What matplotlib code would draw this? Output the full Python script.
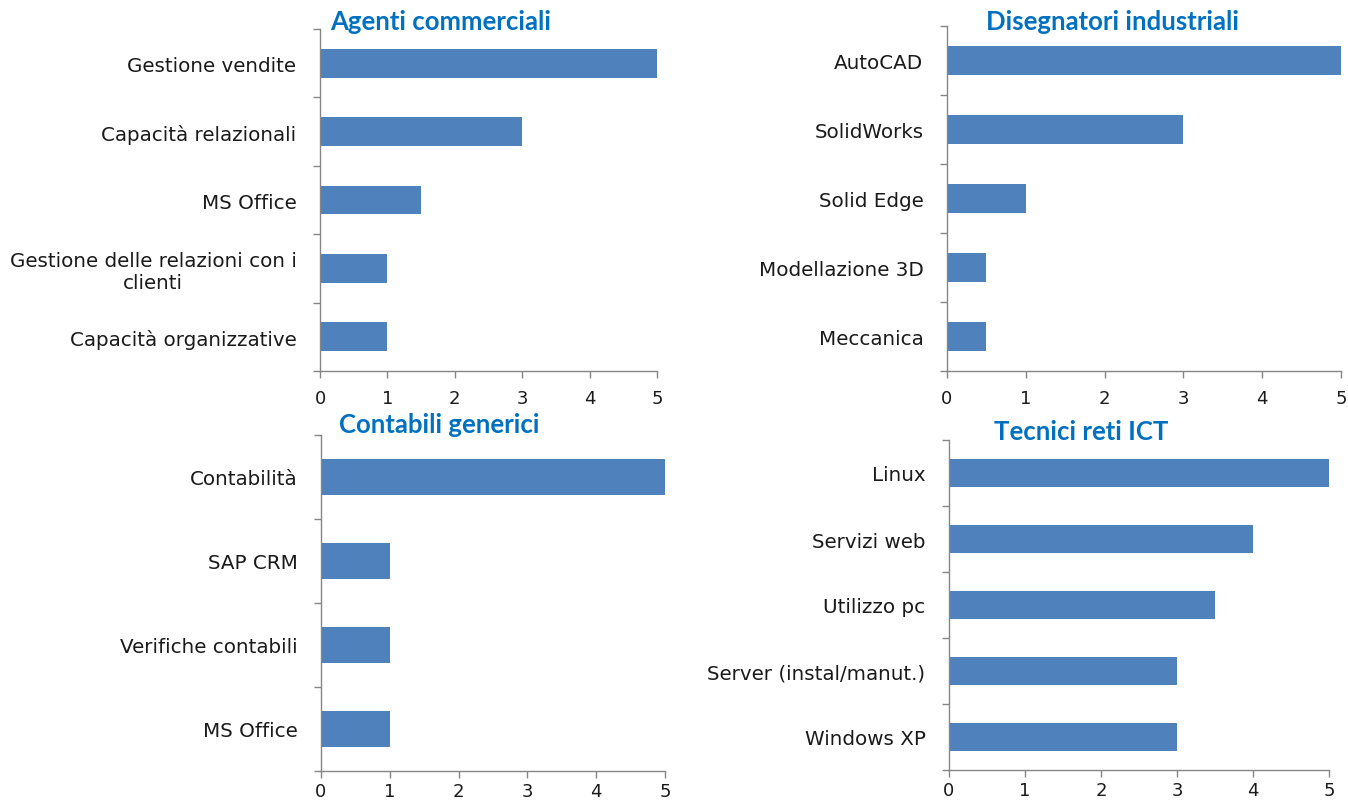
import matplotlib
matplotlib.use("Agg")
import matplotlib.pyplot as plt
import numpy as np

plt.rcParams['font.family'] = ['DejaVu Sans']

agenti_cat = ["Gestione vendite", "Capacità relazionali", "MS Office",
              "Gestione delle relazioni con i\nclienti", "Capacità organizzative"]
agenti_val = [5, 3, 1.5, 1, 1]

disegn_cat = ["AutoCAD", "SolidWorks", "Solid Edge", "Modellazione 3D", "Meccanica"]
disegn_val = [5, 3, 1, 0.5, 0.5]

contab_cat = ["Contabilità", "SAP CRM", "Verifiche contabili", "MS Office"]
contab_val = [5, 1, 1, 1]

tecnici_cat = ["Linux", "Servizi web", "Utilizzo pc", "Server (instal/manut.)", "Windows XP"]
tecnici_val = [5, 4, 3.5, 3, 3]

x_ticks = [0, 1, 2, 3, 4, 5]

W, H = 1348, 803
fig = plt.figure(figsize=(W / 100, H / 100), dpi=100)

BAR = "#4F81BD"
AX = "#868686"
TITLE = "#0070C0"


def make(px_left, px_right, px_top, px_bottom, cats, vals, title, tx, ty, xpad):
    ax = fig.add_axes([px_left / W, 1 - px_bottom / H,
                       (px_right - px_left) / W, (px_bottom - px_top) / H])
    n = len(cats)
    pos = np.arange(n)
    ax.barh(pos, vals, height=0.42, color=BAR, zorder=2)
    ax.set_xlim(0, 5)
    ax.set_ylim(n - 0.5, -0.5)
    ax.set_xticks(x_ticks)
    ax.set_xticklabels([str(t) for t in x_ticks])
    ax.set_yticks(np.arange(-0.5, n, 1.0))
    ax.set_yticklabels([])
    ax.set_yticks(pos, minor=True)
    ax.set_yticklabels(cats, minor=True, fontsize=14.3, color="#1a1a1a",
                       multialignment="center")
    ax.tick_params(axis='y', which='minor', length=0, pad=17)
    ax.tick_params(axis='y', which='major', length=5, color=AX, width=1)
    ax.tick_params(axis='x', length=5, color=AX, width=1, labelsize=13,
                   labelcolor="#1a1a1a", pad=xpad)
    for s in ["top", "right"]:
        ax.spines[s].set_visible(False)
    for s in ["left", "bottom"]:
        ax.spines[s].set_color(AX)
        ax.spines[s].set_linewidth(1)
    fig.text(tx / W, 1 - ty / H, title, color=TITLE, fontsize=18.5,
             fontweight="bold", ha="center", va="center",
             family=["Lato", "DejaVu Sans"])
    return ax


make(320, 657, 30, 372, agenti_cat, agenti_val, "Agenti commerciali", 441, 22, 8)
make(947, 1341, 27, 372, disegn_cat, disegn_val, "Disegnatori industriali", 1113, 22, 8)
make(321, 665, 436, 772, contab_cat, contab_val, "Contabili generici", 439, 425, 3)
make(949, 1329, 441, 771, tecnici_cat, tecnici_val, "Tecnici reti ICT", 1081, 432, 3)

fig.savefig("out.png", dpi=100)
